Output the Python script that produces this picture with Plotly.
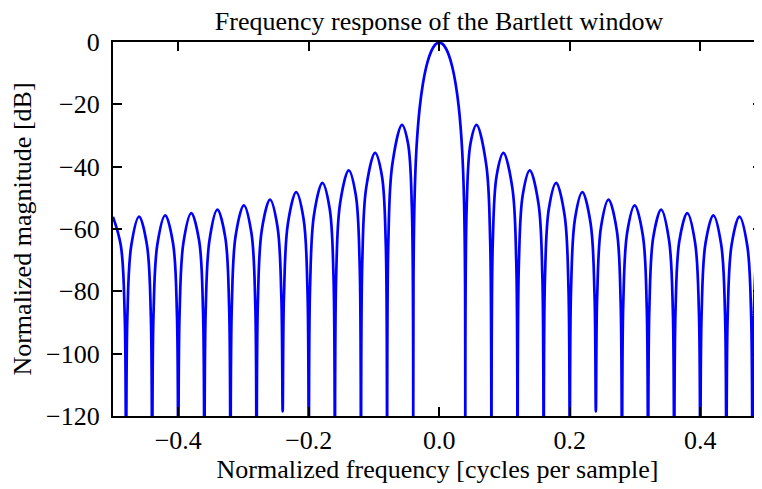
import plotly.graph_objects as go

# Normalized frequency [cycles per sample] and magnitude [dB]
freq = [
    -0.5, -0.488, -0.482, -0.48,
    -0.478, -0.472, -0.46, -0.448, -0.442, -0.44,
    -0.438, -0.432, -0.42, -0.408, -0.402, -0.40,
    -0.398, -0.392, -0.38, -0.368, -0.362, -0.36,
    -0.358, -0.352, -0.34, -0.328, -0.322, -0.32,
    -0.318, -0.312, -0.2995, -0.288, -0.282, -0.28,
    -0.278, -0.272, -0.2594, -0.248, -0.242, -0.24,
    -0.238, -0.232, -0.2193, -0.208, -0.202, -0.20,
    -0.198, -0.192, -0.1791, -0.168, -0.162, -0.16,
    -0.158, -0.152, -0.1388, -0.128, -0.122, -0.12,
    -0.118, -0.112, -0.0984, -0.088, -0.082, -0.08,
    -0.078, -0.072, -0.0572, -0.048, -0.042, -0.04,
    -0.0395, -0.038, -0.035, -0.03, -0.025, -0.02, -0.015, -0.01, -0.005,
    0.0,
    0.005, 0.01, 0.015, 0.02, 0.025, 0.03, 0.035, 0.038, 0.0395,
    0.04, 0.042, 0.048, 0.0572, 0.072, 0.078,
    0.08, 0.082, 0.088, 0.0984, 0.112, 0.118,
    0.12, 0.122, 0.128, 0.1388, 0.152, 0.158,
    0.16, 0.162, 0.168, 0.1791, 0.192, 0.198,
    0.20, 0.202, 0.208, 0.2193, 0.232, 0.238,
    0.24, 0.242, 0.248, 0.2594, 0.272, 0.278,
    0.28, 0.282, 0.288, 0.2995, 0.312, 0.318,
    0.32, 0.322, 0.328, 0.34, 0.352, 0.358,
    0.36, 0.362, 0.368, 0.38, 0.392, 0.398,
    0.40, 0.402, 0.408, 0.42, 0.432, 0.438,
    0.44, 0.442, 0.448, 0.46, 0.472, 0.478,
    0.48, 0.482, 0.488, 0.5,
]
magnitude_db = [
    -56.1, -65.3, -88.3, -160,
    -88.3, -65.3, -56.0, -65.1, -88.0, -160,
    -88.0, -64.9, -55.6, -64.6, -87.5, -160,
    -87.4, -64.3, -54.9, -63.8, -86.6, -160,
    -86.5, -63.4, -53.8, -62.6, -85.4, -160,
    -85.3, -62.1, -52.4, -61.1, -83.9, -160,
    -83.7, -60.4, -50.6, -59.2, -81.8, -118.5,
    -81.6, -58.3, -48.2, -56.7, -79.2, -160,
    -78.9, -55.5, -45.2, -53.4, -75.8, -160,
    -75.4, -51.8, -41.2, -49.0, -71.2, -160,
    -70.7, -46.8, -35.6, -42.8, -64.5, -160,
    -63.7, -39.4, -26.6, -32.4, -53.1, -160,
    -75.9, -51.4, -34.4, -21.1, -13.3, -8.01, -4.39, -1.99, -0.62,
    -0.17,
    -0.62, -1.99, -4.39, -8.01, -13.3, -21.1, -34.4, -51.4, -75.9,
    -160, -53.1, -32.4, -26.6, -39.4, -63.7,
    -160, -64.5, -42.8, -35.6, -46.8, -70.7,
    -160, -71.2, -49.0, -41.2, -51.8, -75.4,
    -160, -75.8, -53.4, -45.2, -55.5, -78.9,
    -160, -79.2, -56.7, -48.2, -58.3, -81.6,
    -118.5, -81.8, -59.2, -50.6, -60.4, -83.7,
    -160, -83.9, -61.1, -52.4, -62.1, -85.3,
    -160, -85.4, -62.6, -53.8, -63.4, -86.5,
    -160, -86.6, -63.8, -54.9, -64.3, -87.4,
    -160, -87.5, -64.6, -55.6, -64.9, -88.0,
    -160, -88.0, -65.1, -56.0, -65.3, -88.3,
    -160, -88.3, -65.3, -56.1,
]

x_tickvals = [-0.4, -0.2, 0.0, 0.2, 0.4]
x_ticktext = ["\u22120.4", "\u22120.2", "0.0", "0.2", "0.4"]
y_tickvals = [0, -20, -40, -60, -80, -100, -120]
y_ticktext = ["0", "\u221220", "\u221240", "\u221260", "\u221280", "\u2212100", "\u2212120"]

FONT = "Liberation Serif"
FS = 26
W, H = 754, 481  # page body has an 8px margin

fig = go.Figure()
fig.add_trace(go.Scatter(
    x=freq, y=magnitude_db, mode="lines",
    line=dict(color="#0000ff", width=2.7, shape="spline", smoothing=1),
    showlegend=False, hoverinfo="skip",
))
# invisible trace to activate right-side tick axis
fig.add_trace(go.Scatter(x=[0], y=[-200], yaxis="y2", mode="markers",
                         marker=dict(opacity=0), showlegend=False, hoverinfo="skip"))

fig.update_layout(
    width=W, height=H,
    margin=dict(l=105, r=0, t=34, b=73, autoexpand=False),
    paper_bgcolor="white", plot_bgcolor="white",
    font=dict(family=FONT, size=FS, color="black"),
    title=dict(text="Frequency response of the Bartlett window",
               x=431 / W, xref="container", xanchor="center",
               y=1 - 13 / H, yref="container", yanchor="middle",
               font=dict(family=FONT, size=FS, color="black")),
    xaxis=dict(
        range=[-0.5, 0.4946], tickvals=x_tickvals, ticktext=x_ticktext,
        ticks="inside", ticklen=9, tickwidth=1.5, tickcolor="black",
        showline=True, linecolor="black", linewidth=2.2, mirror="ticks",
        showgrid=False, zeroline=False, automargin=False,
        title=dict(text="Normalized frequency [cycles per sample]", standoff=2,
                   font=dict(family=FONT, size=FS)),
        tickfont=dict(family=FONT, size=FS),
        ticklabelstandoff=0,
    ),
    yaxis=dict(
        range=[-120, 0], tickvals=y_tickvals, ticktext=y_ticktext,
        ticks="inside", ticklen=9, tickwidth=1.5, tickcolor="black",
        showline=True, linecolor="black", linewidth=2.2, mirror=False,
        showgrid=False, zeroline=False, automargin=False,
        title=dict(text="Normalized magnitude [dB]", standoff=12,
                   font=dict(family=FONT, size=FS)),
        tickfont=dict(family=FONT, size=FS),
        ticklabelstandoff=6,
    ),
    yaxis2=dict(
        range=[-120, 0], tickvals=y_tickvals, overlaying="y", side="right",
        anchor="x", ticks="inside", ticklen=9, tickwidth=1.5, tickcolor="black",
        showticklabels=False, showline=False, showgrid=False, zeroline=False,
        automargin=False,
    ),
)

fig.write_html("out.html")
